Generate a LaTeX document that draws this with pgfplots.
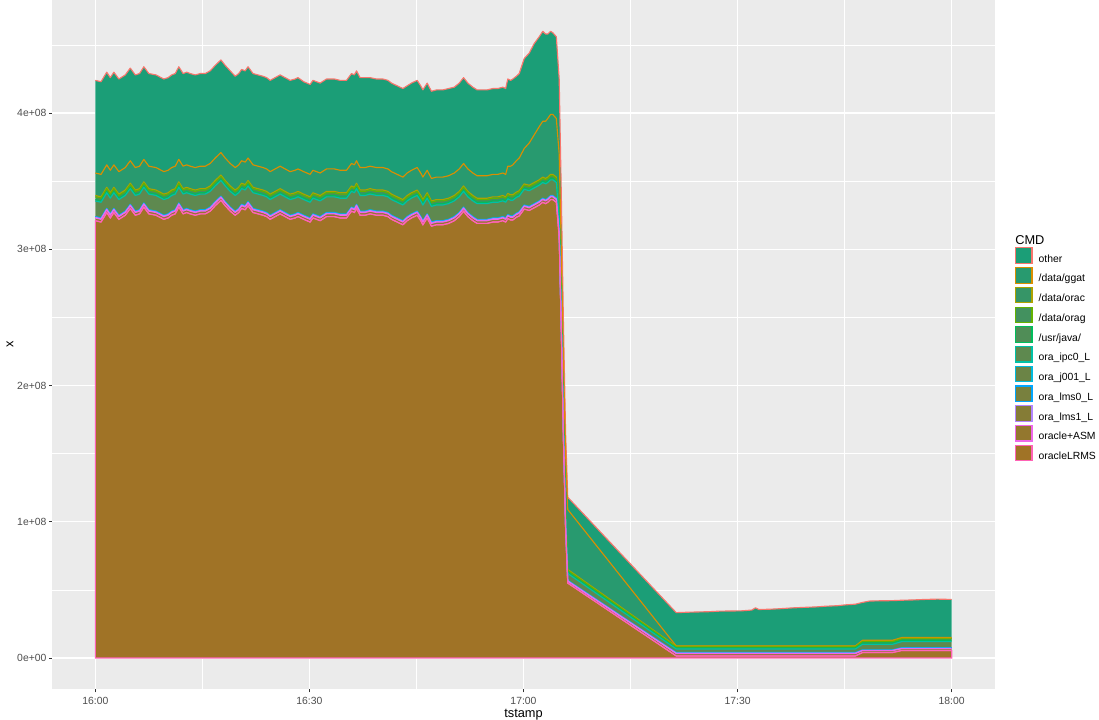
\documentclass[border=0pt]{standalone}
\usepackage{fontspec}
\setmainfont{Liberation Sans}
\usepackage{pgfplots}
\usepackage{pgfplotstable}
\pgfplotsset{compat=1.18}

\definecolor{bgc}{HTML}{EBEBEB}
\definecolor{labc}{HTML}{4D4D4D}
\definecolor{tickc}{HTML}{333333}
% fills
\definecolor{fOther}{RGB}{27,158,119}
\definecolor{fGgat}{RGB}{40,154,111}
\definecolor{fOrac}{RGB}{54,149,103}
\definecolor{fOrag}{RGB}{67,145,95}
\definecolor{fJava}{RGB}{80,141,87}
\definecolor{fIpc}{RGB}{94,137,79}
\definecolor{fJ}{RGB}{107,132,70}
\definecolor{fLmsz}{RGB}{120,128,62}
\definecolor{fLmsa}{RGB}{133,124,54}
\definecolor{fAsm}{RGB}{147,119,46}
\definecolor{fLrms}{RGB}{160,115,38}
% outlines
\definecolor{lOther}{HTML}{F8766D}
\definecolor{lGgat}{HTML}{DB8E00}
\definecolor{lOrac}{HTML}{AEA200}
\definecolor{lOrag}{HTML}{64B200}
\definecolor{lJava}{HTML}{00BD5C}
\definecolor{lIpc}{HTML}{00C1A7}
\definecolor{lJ}{HTML}{00BADE}
\definecolor{lLmsz}{HTML}{00A6FF}
\definecolor{lLmsa}{HTML}{B385FF}
\definecolor{lAsm}{HTML}{EF67EB}
\definecolor{lLrms}{HTML}{FF63B6}

% t in minutes after 16:00, values in units of 1e+08
\pgfplotstableread{
t LRMS ASM lms1 lms0 j001 ipc0 java orag orac ggat other
0.0 3.21 0.020 0.004 0.004 0.002 0.115 0.010 0.020 0.010 0.165 0.68
0.8 3.20 0.020 0.004 0.004 0.002 0.115 0.010 0.020 0.010 0.165 0.68
1.6 3.27 0.020 0.004 0.004 0.002 0.115 0.010 0.020 0.010 0.165 0.68
2.1 3.23 0.020 0.004 0.004 0.002 0.115 0.010 0.020 0.010 0.165 0.68
2.6 3.27 0.020 0.004 0.004 0.002 0.115 0.010 0.020 0.010 0.165 0.68
3.3 3.22 0.020 0.004 0.004 0.002 0.115 0.010 0.020 0.010 0.165 0.68
4.2 3.25 0.020 0.004 0.004 0.002 0.115 0.010 0.020 0.010 0.165 0.68
4.9 3.30 0.020 0.004 0.004 0.002 0.115 0.010 0.020 0.010 0.165 0.68
5.6 3.25 0.020 0.004 0.004 0.002 0.115 0.010 0.020 0.010 0.165 0.68
6.2 3.26 0.020 0.004 0.004 0.002 0.115 0.010 0.020 0.010 0.165 0.68
6.8 3.31 0.020 0.004 0.004 0.002 0.115 0.010 0.020 0.010 0.165 0.68
7.5 3.26 0.020 0.004 0.004 0.002 0.115 0.010 0.020 0.010 0.165 0.68
8.5 3.25 0.020 0.004 0.004 0.002 0.115 0.010 0.020 0.010 0.165 0.68
9.6 3.22 0.020 0.004 0.004 0.002 0.115 0.010 0.020 0.010 0.165 0.68
10.2 3.23 0.020 0.004 0.004 0.002 0.115 0.010 0.020 0.010 0.165 0.68
10.7 3.25 0.020 0.004 0.004 0.002 0.115 0.010 0.020 0.010 0.165 0.68
11.2 3.26 0.020 0.004 0.004 0.002 0.115 0.010 0.020 0.010 0.165 0.68
11.7 3.31 0.020 0.004 0.004 0.002 0.115 0.010 0.020 0.010 0.165 0.68
12.3 3.26 0.020 0.004 0.004 0.002 0.115 0.010 0.020 0.010 0.165 0.68
12.8 3.27 0.020 0.004 0.004 0.002 0.115 0.010 0.020 0.010 0.165 0.68
13.3 3.26 0.020 0.004 0.004 0.002 0.115 0.010 0.020 0.010 0.165 0.68
14.0 3.25 0.020 0.004 0.004 0.002 0.115 0.010 0.020 0.010 0.165 0.68
14.7 3.26 0.020 0.004 0.004 0.002 0.115 0.010 0.020 0.010 0.165 0.68
15.4 3.26 0.020 0.004 0.004 0.002 0.115 0.010 0.020 0.010 0.165 0.68
16.1 3.28 0.020 0.004 0.004 0.002 0.115 0.010 0.020 0.010 0.165 0.68
16.8 3.32 0.020 0.004 0.004 0.002 0.115 0.010 0.020 0.010 0.165 0.68
17.6 3.36 0.020 0.004 0.004 0.002 0.115 0.010 0.020 0.010 0.165 0.68
18.2 3.32 0.020 0.004 0.004 0.002 0.115 0.010 0.020 0.010 0.165 0.68
18.9 3.28 0.020 0.004 0.004 0.002 0.115 0.010 0.020 0.010 0.165 0.68
19.6 3.25 0.020 0.004 0.004 0.002 0.115 0.010 0.020 0.010 0.165 0.67
20.1 3.27 0.020 0.004 0.004 0.002 0.115 0.010 0.020 0.010 0.165 0.67
20.5 3.30 0.020 0.004 0.004 0.002 0.115 0.010 0.020 0.010 0.165 0.67
21.0 3.29 0.020 0.004 0.004 0.002 0.115 0.010 0.020 0.010 0.165 0.67
21.4 3.32 0.020 0.004 0.004 0.002 0.115 0.010 0.020 0.010 0.165 0.67
22.1 3.27 0.020 0.004 0.004 0.002 0.115 0.010 0.020 0.010 0.165 0.67
22.8 3.26 0.020 0.004 0.004 0.002 0.115 0.010 0.020 0.010 0.165 0.67
23.5 3.25 0.020 0.004 0.004 0.002 0.115 0.010 0.020 0.010 0.165 0.67
24.0 3.24 0.020 0.004 0.004 0.002 0.115 0.010 0.020 0.010 0.165 0.67
24.5 3.22 0.020 0.004 0.004 0.002 0.115 0.010 0.020 0.010 0.165 0.67
25.2 3.24 0.020 0.004 0.004 0.002 0.115 0.010 0.020 0.010 0.165 0.67
25.9 3.26 0.020 0.004 0.004 0.002 0.115 0.010 0.020 0.010 0.165 0.67
26.6 3.24 0.020 0.004 0.004 0.002 0.115 0.010 0.020 0.010 0.165 0.67
27.3 3.22 0.020 0.004 0.004 0.002 0.115 0.010 0.020 0.010 0.165 0.67
28.0 3.23 0.020 0.004 0.004 0.002 0.115 0.010 0.020 0.010 0.165 0.67
28.4 3.24 0.020 0.004 0.004 0.002 0.115 0.010 0.020 0.010 0.165 0.67
29.2 3.22 0.020 0.004 0.004 0.002 0.115 0.010 0.020 0.010 0.165 0.66
30.1 3.20 0.020 0.004 0.004 0.002 0.115 0.010 0.020 0.010 0.165 0.66
30.5 3.23 0.020 0.004 0.004 0.002 0.115 0.010 0.020 0.010 0.165 0.66
31.5 3.21 0.020 0.004 0.004 0.002 0.115 0.010 0.020 0.010 0.165 0.66
32.4 3.24 0.020 0.004 0.004 0.002 0.115 0.010 0.020 0.010 0.165 0.66
33.5 3.24 0.020 0.004 0.004 0.002 0.115 0.010 0.020 0.010 0.165 0.66
34.3 3.23 0.020 0.004 0.004 0.002 0.115 0.010 0.020 0.010 0.165 0.66
35.2 3.23 0.020 0.004 0.004 0.002 0.115 0.010 0.020 0.010 0.165 0.66
35.9 3.28 0.020 0.004 0.004 0.002 0.115 0.010 0.020 0.010 0.165 0.66
36.3 3.27 0.020 0.004 0.004 0.002 0.115 0.010 0.020 0.010 0.165 0.66
36.6 3.30 0.020 0.004 0.004 0.002 0.115 0.010 0.020 0.010 0.165 0.66
37.1 3.25 0.020 0.004 0.004 0.002 0.115 0.010 0.020 0.010 0.165 0.66
37.8 3.25 0.020 0.004 0.004 0.002 0.115 0.010 0.020 0.010 0.165 0.66
38.5 3.26 0.020 0.004 0.004 0.002 0.115 0.010 0.020 0.010 0.165 0.65
39.4 3.25 0.020 0.004 0.004 0.002 0.115 0.010 0.020 0.010 0.165 0.65
40.3 3.25 0.020 0.004 0.004 0.002 0.115 0.010 0.020 0.010 0.165 0.65
41.0 3.24 0.020 0.004 0.004 0.002 0.115 0.010 0.020 0.010 0.165 0.65
41.5 3.22 0.020 0.004 0.004 0.002 0.115 0.010 0.020 0.010 0.165 0.65
42.3 3.20 0.020 0.004 0.004 0.002 0.115 0.010 0.020 0.010 0.165 0.65
43.1 3.18 0.020 0.004 0.004 0.002 0.115 0.010 0.020 0.010 0.165 0.65
43.7 3.21 0.020 0.004 0.004 0.002 0.115 0.010 0.020 0.010 0.165 0.64
44.3 3.23 0.020 0.004 0.004 0.002 0.115 0.010 0.020 0.010 0.165 0.64
45.1 3.25 0.020 0.004 0.004 0.002 0.115 0.010 0.020 0.010 0.165 0.64
45.6 3.21 0.020 0.004 0.004 0.002 0.115 0.010 0.020 0.010 0.165 0.64
45.9 3.18 0.020 0.004 0.004 0.002 0.115 0.010 0.020 0.010 0.165 0.64
46.5 3.23 0.020 0.004 0.004 0.002 0.115 0.010 0.020 0.010 0.165 0.64
47.1 3.17 0.020 0.004 0.004 0.002 0.115 0.010 0.020 0.010 0.165 0.64
47.8 3.18 0.020 0.004 0.004 0.002 0.115 0.010 0.020 0.010 0.165 0.64
48.7 3.18 0.020 0.004 0.004 0.002 0.115 0.010 0.020 0.010 0.165 0.64
49.5 3.19 0.020 0.004 0.004 0.002 0.115 0.010 0.020 0.010 0.165 0.64
50.3 3.21 0.020 0.004 0.004 0.002 0.115 0.010 0.020 0.010 0.165 0.63
51.0 3.24 0.020 0.004 0.004 0.002 0.115 0.010 0.020 0.010 0.165 0.63
51.6 3.28 0.020 0.004 0.004 0.002 0.115 0.010 0.020 0.010 0.165 0.63
52.2 3.24 0.020 0.004 0.004 0.002 0.115 0.010 0.020 0.010 0.165 0.63
52.9 3.21 0.020 0.004 0.004 0.002 0.115 0.010 0.020 0.010 0.165 0.63
53.5 3.19 0.020 0.004 0.004 0.002 0.115 0.010 0.020 0.010 0.165 0.63
54.1 3.19 0.020 0.004 0.004 0.002 0.115 0.010 0.020 0.010 0.165 0.63
54.9 3.19 0.020 0.004 0.004 0.002 0.115 0.010 0.020 0.010 0.165 0.63
55.7 3.20 0.020 0.004 0.004 0.002 0.115 0.010 0.020 0.010 0.165 0.63
56.4 3.20 0.020 0.004 0.004 0.002 0.115 0.010 0.020 0.010 0.165 0.63
57.1 3.21 0.020 0.004 0.004 0.002 0.115 0.010 0.020 0.010 0.165 0.63
57.5 3.20 0.020 0.004 0.004 0.002 0.115 0.010 0.020 0.010 0.165 0.63
57.8 3.225 0.020 0.004 0.004 0.002 0.115 0.010 0.020 0.010 0.20 0.64
58.2 3.215 0.020 0.004 0.004 0.002 0.115 0.010 0.020 0.010 0.21 0.63
58.5 3.215 0.020 0.004 0.004 0.002 0.115 0.010 0.020 0.010 0.22 0.63
59.0 3.235 0.020 0.004 0.004 0.002 0.115 0.010 0.020 0.010 0.23 0.62
59.4 3.245 0.020 0.004 0.004 0.002 0.115 0.010 0.020 0.010 0.24 0.62
60.1 3.295 0.020 0.004 0.004 0.002 0.115 0.010 0.020 0.010 0.26 0.66
60.8 3.285 0.020 0.004 0.004 0.002 0.115 0.010 0.020 0.010 0.31 0.66
61.5 3.305 0.020 0.004 0.004 0.002 0.115 0.010 0.020 0.010 0.35 0.67
62.2 3.325 0.020 0.004 0.004 0.002 0.115 0.010 0.020 0.010 0.39 0.66
62.7 3.345 0.020 0.004 0.004 0.002 0.115 0.010 0.020 0.010 0.41 0.66
63.1 3.335 0.020 0.004 0.004 0.002 0.115 0.010 0.020 0.010 0.42 0.64
63.4 3.345 0.020 0.004 0.004 0.002 0.115 0.010 0.020 0.010 0.43 0.62
63.8 3.365 0.020 0.004 0.004 0.002 0.115 0.010 0.020 0.010 0.44 0.61
64.1 3.365 0.020 0.004 0.004 0.002 0.115 0.010 0.020 0.010 0.44 0.60
64.6 3.345 0.020 0.004 0.004 0.002 0.115 0.010 0.020 0.010 0.43 0.60
65.0 3.09 0.020 0.004 0.004 0.002 0.110 0.010 0.020 0.010 0.43 0.55
65.3 2.39 0.020 0.004 0.004 0.002 0.090 0.010 0.020 0.010 0.43 0.42
65.6 1.60 0.016 0.004 0.003 0.002 0.075 0.010 0.016 0.009 0.44 0.275
65.9 0.95 0.013 0.003 0.002 0.002 0.060 0.010 0.013 0.007 0.44 0.15
66.2 0.55 0.013 0.003 0.002 0.002 0.050 0.010 0.013 0.007 0.44 0.09
81.4 0.015 0.018 0.003 0.002 0.002 0.026 0.007 0.008 0.005 0.002 0.245
83.0 0.015 0.018 0.003 0.002 0.002 0.026 0.007 0.008 0.005 0.002 0.248
84.5 0.015 0.018 0.003 0.002 0.002 0.026 0.007 0.008 0.005 0.002 0.250
86.0 0.015 0.018 0.003 0.002 0.002 0.026 0.007 0.008 0.005 0.002 0.252
87.5 0.015 0.018 0.003 0.002 0.002 0.026 0.007 0.008 0.005 0.002 0.256
89.0 0.015 0.018 0.003 0.002 0.002 0.026 0.007 0.008 0.005 0.002 0.257
90.5 0.015 0.018 0.003 0.002 0.002 0.026 0.007 0.008 0.005 0.002 0.258
92.0 0.015 0.018 0.003 0.002 0.002 0.026 0.007 0.008 0.005 0.002 0.264
92.5 0.015 0.018 0.003 0.002 0.002 0.026 0.007 0.008 0.005 0.002 0.280
93.0 0.015 0.018 0.003 0.002 0.002 0.026 0.007 0.008 0.005 0.002 0.268
94.5 0.015 0.018 0.003 0.002 0.002 0.026 0.007 0.008 0.005 0.002 0.270
96.0 0.015 0.018 0.003 0.002 0.002 0.026 0.007 0.008 0.005 0.002 0.274
97.7 0.015 0.018 0.003 0.002 0.002 0.026 0.007 0.008 0.005 0.002 0.280
99.5 0.015 0.018 0.003 0.002 0.002 0.026 0.007 0.008 0.005 0.002 0.284
101.0 0.015 0.018 0.003 0.002 0.002 0.026 0.007 0.008 0.005 0.002 0.287
102.3 0.015 0.018 0.003 0.002 0.002 0.026 0.007 0.008 0.005 0.002 0.292
104.0 0.015 0.018 0.003 0.002 0.002 0.026 0.007 0.008 0.005 0.002 0.296
105.1 0.015 0.018 0.003 0.002 0.002 0.026 0.007 0.008 0.005 0.002 0.302
106.5 0.015 0.018 0.003 0.002 0.002 0.026 0.007 0.008 0.005 0.002 0.307
107.5 0.040 0.014 0.002 0.002 0.002 0.040 0.010 0.010 0.005 0.005 0.278
108.5 0.040 0.014 0.002 0.002 0.002 0.040 0.010 0.010 0.005 0.005 0.288
110.0 0.040 0.014 0.002 0.002 0.002 0.040 0.010 0.010 0.005 0.005 0.290
111.7 0.040 0.014 0.002 0.002 0.002 0.040 0.010 0.010 0.005 0.005 0.291
113.0 0.055 0.014 0.002 0.002 0.002 0.045 0.010 0.010 0.005 0.005 0.274
114.5 0.055 0.014 0.002 0.002 0.002 0.045 0.010 0.010 0.005 0.005 0.276
116.3 0.055 0.014 0.002 0.002 0.002 0.045 0.010 0.010 0.005 0.005 0.280
118.0 0.055 0.014 0.002 0.002 0.002 0.045 0.010 0.010 0.005 0.005 0.282
119.0 0.055 0.014 0.002 0.002 0.002 0.045 0.010 0.010 0.005 0.005 0.281
120.0 0.055 0.014 0.002 0.002 0.002 0.045 0.010 0.010 0.005 0.005 0.280
}\cmddata

\pgfplotsset{
  common/.style={
    at={(0pt,0pt)}, anchor=south west,
    scale only axis, width=706.5pt, height=517pt,
    xmin=-6, xmax=126, ymin=-0.23, ymax=4.83,
    stack plots=y,
  },
}

\begin{document}
\begin{tikzpicture}
\useasboundingbox (-39.375pt,-22.275pt) rectangle (784.875pt,517pt);
\begin{axis}[
  common, clip mode=individual,
  axis background/.style={fill=bgc},
  axis x line*=bottom, axis y line*=left, axis line style={draw=none},
  tick align=outside, major tick length=2.3pt, minor tick length=0pt,
  tick style={color=tickc, line width=0.6pt},
  xtick={0,30,60,90,120}, xticklabels={16:00,16:30,17:00,17:30,18:00},
  minor xtick={15,45,75,105},
  ytick={0,1,2,3,4}, yticklabels={0e+00,1e+08,2e+08,3e+08,4e+08},
  minor ytick={0.5,1.5,2.5,3.5,4.5},
  grid=both,
  major grid style={white, line width=1.0pt},
  minor grid style={white, line width=0.5pt},
  /pgf/number format/assume math mode=true,
  ticklabel style={font=\fontsize{7.8}{9}\selectfont, text=labc, inner sep=0pt},
  xticklabel shift=3.5pt,
  yticklabel shift=2.05pt,
  xlabel={tstamp}, ylabel={x},
  xlabel style={at={(axis description cs:0.5,-0.0402)}, anchor=base, font=\fontsize{9.6}{11}\selectfont, inner sep=0pt},
  ylabel style={at={(axis description cs:-0.0416,0.5)}, anchor=base, font=\fontsize{9.6}{11}\selectfont, inner sep=0pt},
  legend cell align=left,
  legend image code/.code={\draw[#1] (0.45pt,-3.0pt) rectangle (12.75pt,8.6pt);},
  legend style={at={(1.0218,0.6412)}, anchor=north west, draw=none, fill=none,
    inner sep=0pt, outer sep=0pt, row sep=2.2pt, column sep=4.6pt,
    font=\fontsize{7.8}{9}\selectfont, nodes={inner sep=0pt}},
]
\addplot[fill=fLrms, draw=lLrms, line width=0.85pt, forget plot] table[x=t,y=LRMS]{\cmddata} \closedcycle;
\addplot[fill=fAsm, draw=none, forget plot] table[x=t,y=ASM]{\cmddata} \closedcycle;
\addplot[fill=fLmsa, draw=none, forget plot] table[x=t,y=lms1]{\cmddata} \closedcycle;
\addplot[fill=fLmsz, draw=none, forget plot] table[x=t,y=lms0]{\cmddata} \closedcycle;
\addplot[fill=fJ, draw=none, forget plot] table[x=t,y=j001]{\cmddata} \closedcycle;
\addplot[fill=fIpc, draw=none, forget plot] table[x=t,y=ipc0]{\cmddata} \closedcycle;
\addplot[fill=fJava, draw=none, forget plot] table[x=t,y=java]{\cmddata} \closedcycle;
\addplot[fill=fOrag, draw=none, forget plot] table[x=t,y=orag]{\cmddata} \closedcycle;
\addplot[fill=fOrac, draw=none, forget plot] table[x=t,y=orac]{\cmddata} \closedcycle;
\addplot[fill=fGgat, draw=none, forget plot] table[x=t,y=ggat]{\cmddata} \closedcycle;
\addplot[fill=fOther, draw=none, forget plot] table[x=t,y=other]{\cmddata} \closedcycle;

\addlegendimage{fill=fOther, draw=lOther, line width=0.85pt}\addlegendentry{other}
\addlegendimage{fill=fGgat, draw=lGgat, line width=0.85pt}\addlegendentry{/data/ggat}
\addlegendimage{fill=fOrac, draw=lOrac, line width=0.85pt}\addlegendentry{/data/orac}
\addlegendimage{fill=fOrag, draw=lOrag, line width=0.85pt}\addlegendentry{/data/orag}
\addlegendimage{fill=fJava, draw=lJava, line width=0.85pt}\addlegendentry{/usr/java/}
\addlegendimage{fill=fIpc, draw=lIpc, line width=0.85pt}\addlegendentry{ora\_ipc0\_L}
\addlegendimage{fill=fJ, draw=lJ, line width=0.85pt}\addlegendentry{ora\_j001\_L}
\addlegendimage{fill=fLmsz, draw=lLmsz, line width=0.85pt}\addlegendentry{ora\_lms0\_L}
\addlegendimage{fill=fLmsa, draw=lLmsa, line width=0.85pt}\addlegendentry{ora\_lms1\_L}
\addlegendimage{fill=fAsm, draw=lAsm, line width=0.85pt}\addlegendentry{oracle+ASM}
\addlegendimage{fill=fLrms, draw=lLrms, line width=0.85pt}\addlegendentry{oracleLRMS}

\node[anchor=base west, inner sep=0pt, font=\fontsize{9.6}{11}\selectfont] at (axis description cs:1.0218,0.6446) {CMD};
\end{axis}

\begin{axis}[
  common, hide axis,
  every axis plot/.append style={line width=0.85pt, line join=round, mark=none},
]
\addplot[draw=lLrms] table[x=t,y=LRMS]{\cmddata};
\addplot[draw=lAsm] table[x=t,y=ASM]{\cmddata};
\addplot[draw=lLmsa] table[x=t,y=lms1]{\cmddata};
\addplot[draw=lLmsz] table[x=t,y=lms0]{\cmddata};
\addplot[draw=lJ] table[x=t,y=j001]{\cmddata};
\addplot[draw=lIpc] table[x=t,y=ipc0]{\cmddata};
\addplot[draw=lJava] table[x=t,y=java]{\cmddata};
\addplot[draw=lOrag] table[x=t,y=orag]{\cmddata};
\addplot[draw=lOrac] table[x=t,y=orac]{\cmddata};
\addplot[draw=lGgat] table[x=t,y=ggat]{\cmddata};
\addplot[draw=lOther] table[x=t,y=other]{\cmddata};
\end{axis}
\end{tikzpicture}
\end{document}
